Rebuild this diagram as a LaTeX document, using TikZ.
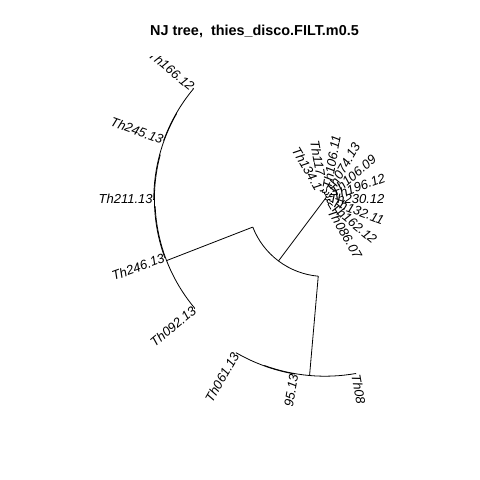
\documentclass[tikz,border=0pt]{standalone}
\usepackage{fontspec}
\setmainfont{Liberation Sans}

\begin{document}
\begin{tikzpicture}[x=1bp, y=1bp, line width=0.8bp,
    labR/.style = {anchor=west, inner sep=0pt, font=\fontsize{13bp}{15bp}\selectfont\itshape},
    labL/.style = {anchor=east, inner sep=0pt, font=\fontsize{13bp}{15bp}\selectfont\itshape}]
    \useasboundingbox (0,0) rectangle (480,480);
    \node[anchor=base, font=\fontsize{14.4bp}{17bp}\selectfont\bfseries] (title) at (254.5,444.5) {NJ tree,\ \ thies\_disco.FILT.m0.5};

    \begin{scope}
    \clip (0,74) rectangle (480,423.5);
    \begin{scope}[shift={(325,281)}]
        \coordinate (root) at (0,0);

        % branches: name / angle / radius of parent / radius
        \foreach \n/\a/\rp/\r in {A/233.125/0/77.5, P1/53.75/0/3, P2/330/0/3,
            B/201.25/77.5/170, C/265/77.5/177.2,
            B1/182.5/170/170.6, Th092/220/170/170.5,
            B2/165/170.6/171.2, Th246/200/170.6/171,
            B3/150/171.2/171.6, Th211/180/171.2/172,
            Th166/140/171.6/172.5, Th245/160/171.6/172.2,
            C1/250/177.2/177.6, Th08/280/177.2/177.8,
            Th061/240/177.6/178, T95/260/177.6/178.2,
            P1a/30/3/6, P1b/77.5/3/5,
            Th196/20/6/8, Th10609/40/6/9,
            Th074/60/5/8, P1c/95/5/7,
            Th10611/80/7/10, P1d/110/7/9,
            Th117/100/9/10, Th134/120/9/10,
            P2a/310/3/6, P2b/350/3/5,
            Th086/300/6/12, Th162/320/6/10,
            Th132/340/5/8, Th230/360/5/4}
        {
            \coordinate (\n) at (\a:\r);
            \coordinate (\n-b) at (\a:\rp);
            \draw (\n-b) -- (\n);
        }

        % arcs: radius / from / to
        \foreach \r/\s/\e in {77.5/201.25/265, 170/182.5/220, 170.6/165/200,
            171.2/150/180, 171.6/140/160, 177.2/250/280, 177.6/240/260,
            3/30/77.5, 6/20/40, 5/60/95, 7/80/110, 9/100/120,
            3/310/350, 6/300/320, 5/340/360}
            \draw (\s:\r) arc[start angle=\s, end angle=\e, radius=\r];

        % tip labels
        \node[labR, rotate=20] (l196) at (Th196) {Th196.12};
        \node[labR, rotate=40] (l10609) at (Th10609) {Th106.09};
        \node[labR, rotate=60] (l074) at (Th074) {Th074.13};
        \node[labR, rotate=80] (l10611) at (Th10611) {Th106.11};
        \node[labL, rotate=-80] (l117) at (100:23) {Th117};
        \node[labL, rotate=-60] (l134) at (120:11) {Th134.1};
        \node[labL, rotate=-40] (l166) at (Th166) {Th166.12};
        \node[labL, rotate=-20] (l245) at (Th245) {Th245.13};
        \node[labL, rotate=0] (l211) at (Th211) {Th211.13};
        \node[labL, rotate=20] (l246) at (Th246) {Th246.13};
        \node[labL, rotate=40] (l092) at (Th092) {Th092.13};
        \node[labL, rotate=60] (l061) at (Th061) {Th061.13};
        \node[labL, rotate=80] (l95) at (T95) {95.13};
        \node[labR, rotate=-80] (l08) at (Th08) {Th08};
        \node[labR, rotate=-60] (l086) at (Th086) {Th086.07};
        \node[labR, rotate=-40] (l162) at (Th162) {Th162.12};
        \node[labR, rotate=-20] (l132) at (Th132) {Th132.11};
        \node[labR, rotate=0] (l230) at (Th230) {Th230.12};
    \end{scope}
    \end{scope}
\end{tikzpicture}
\end{document}
